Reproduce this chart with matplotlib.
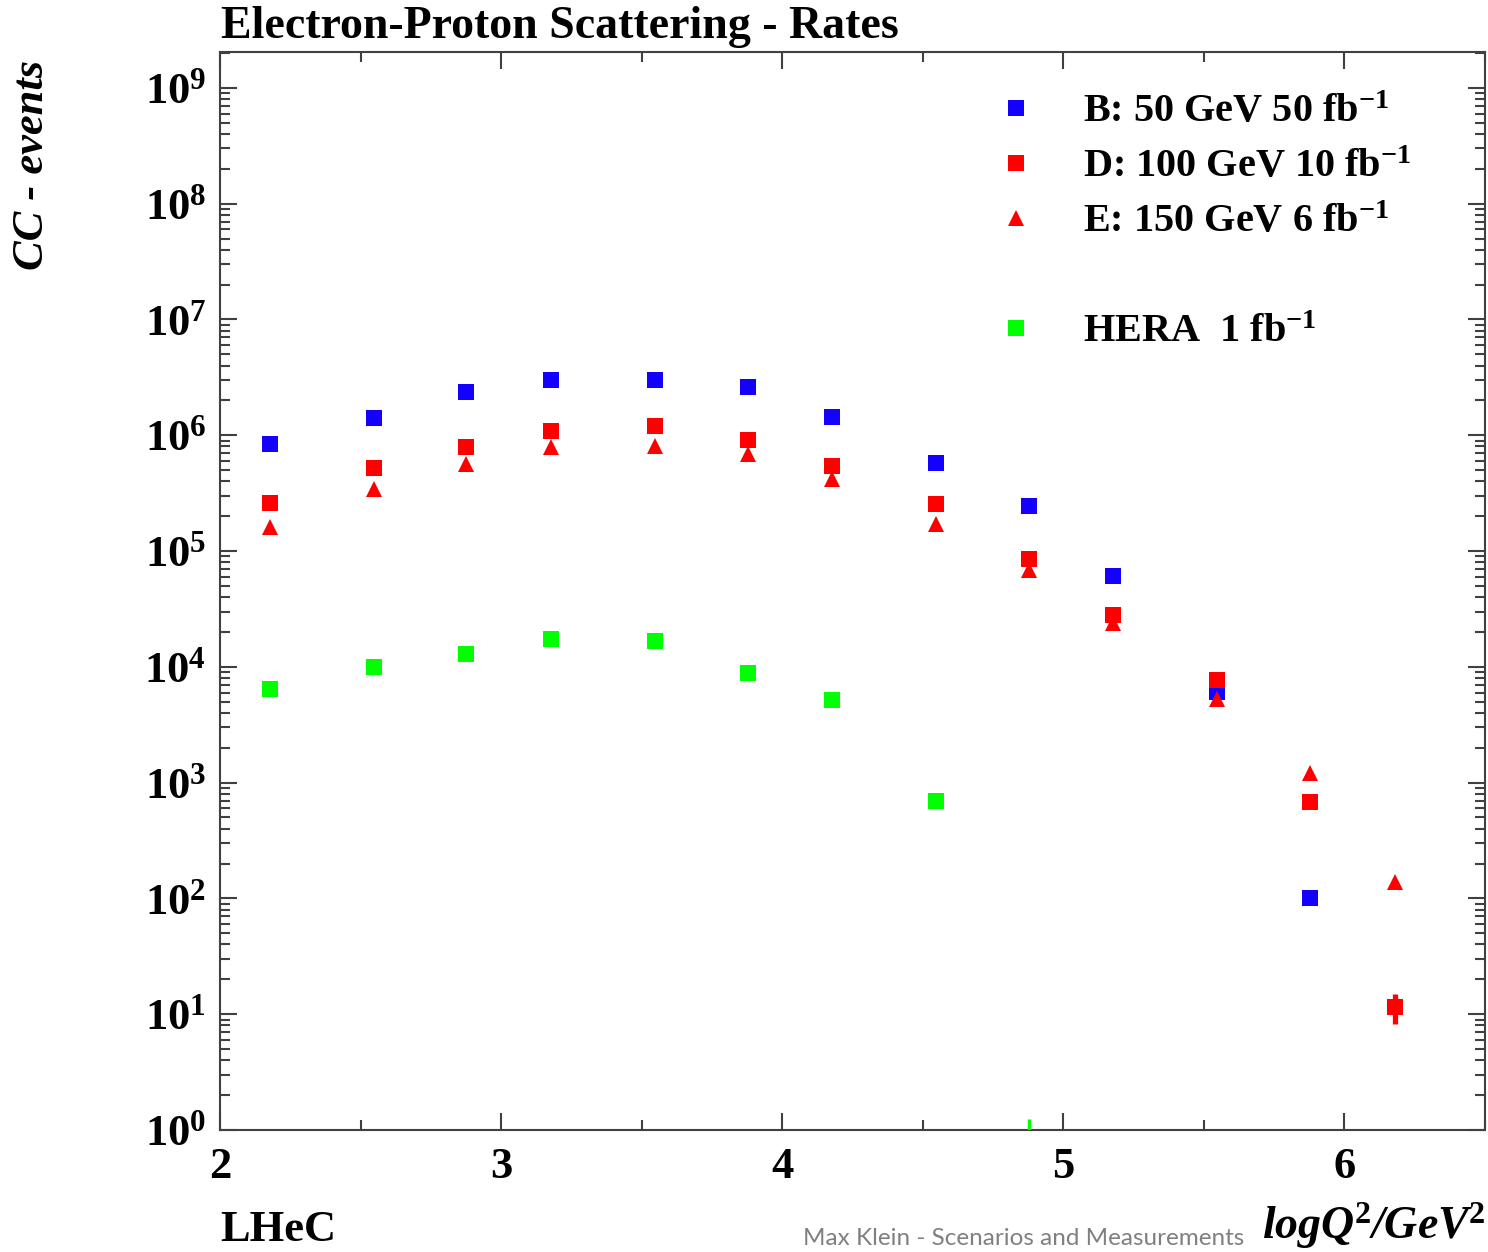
import math
import matplotlib
matplotlib.use("Agg")
import matplotlib.pyplot as plt
from matplotlib.ticker import FixedLocator, LogLocator, NullFormatter, FuncFormatter
from matplotlib.lines import Line2D

plt.rcParams['mathtext.fontset'] = 'custom'
plt.rcParams['mathtext.rm'] = 'Liberation Serif:bold'
plt.rcParams['mathtext.bf'] = 'Liberation Serif:bold'
plt.rcParams['mathtext.it'] = 'Liberation Serif:bold:italic'
plt.rcParams['font.family'] = ['Liberation Serif']

# ---- data ----
logq2 = [2.178, 2.548, 2.875, 3.178, 3.548, 3.879, 4.178, 4.548, 4.879, 5.178, 5.548, 5.879, 6.181]

b_x = logq2[:12]
b_events = [8.4e5, 1.41e6, 2.36e6, 3.0e6, 3.0e6, 2.6e6, 1.44e6, 5.75e5, 2.45e5, 6.1e4, 6.05e3, 1.0e2]

d_x = logq2
d_events = [2.6e5, 5.2e5, 7.9e5, 1.09e6, 1.2e6, 9.1e5, 5.4e5, 2.55e5, 8.5e4, 2.8e4, 7.7e3, 6.8e2, 11.5]
d_err_lo = [0, 0, 0, 0, 0, 0, 0, 0, 0, 0, 0, 0, 3.3]
d_err_hi = [0, 0, 0, 0, 0, 0, 0, 0, 0, 0, 0, 0, 3.4]

e_x = logq2
e_events = [1.61e5, 3.43e5, 5.6e5, 7.9e5, 8.1e5, 6.9e5, 4.2e5, 1.71e5, 6.9e4, 2.4e4, 5.3e3, 1.2e3, 139]

hera_x = logq2[:9]
hera_events = [6.4e3, 1.0e4, 1.29e4, 1.74e4, 1.67e4, 8.8e3, 5.2e3, 6.9e2, 0.75]
hera_err_hi = [0, 0, 0, 0, 0, 0, 0, 0, 0.5]

labels = [r"B: 50 GeV 50 fb$^{\mathrm{-1}}$",
          r"D: 100 GeV 10 fb$^{\mathrm{-1}}$",
          r"E: 150 GeV 6 fb$^{\mathrm{-1}}$",
          r"HERA  1 fb$^{\mathrm{-1}}$"]

BLUE = '#1400FF'
RED = '#FF0000'
GREEN = '#00FF00'
SPINE = '#404040'

fig = plt.figure(figsize=(14.88, 12.52), dpi=100)
ax = fig.add_axes([220/1488, 1-1130/1252, (1485-220)/1488, (1130-52)/1252])
ax.set_yscale('log')
ax.set_xlim(2, 6.5)
ax.set_ylim(1, 2.04e9)

ms_sq = 11
ms_tr = 12
ax.errorbar(d_x, d_events, yerr=[d_err_lo, d_err_hi], fmt='s', color=RED, ms=ms_sq,
            elinewidth=3.8, capsize=0, mew=0, zorder=3)
ax.plot(e_x, e_events, '^', color=RED, ms=ms_tr, mew=0, zorder=4)
ax.plot(b_x, b_events, 's', color=BLUE, ms=ms_sq, mew=0, zorder=2)
ax.errorbar(hera_x, hera_events, yerr=[[0]*len(hera_err_hi), hera_err_hi], fmt='s',
            color=GREEN, ms=ms_sq, mew=0, elinewidth=2.5, capsize=0, zorder=3)

# axes styling
for s in ax.spines.values():
    s.set_color(SPINE)
    s.set_linewidth(1.5)
ax.xaxis.set_major_locator(FixedLocator([2, 3, 4, 5, 6]))
ax.xaxis.set_minor_locator(FixedLocator([2.5, 3.5, 4.5, 5.5, 6.5]))
ax.yaxis.set_major_locator(LogLocator(base=10, numticks=20))
ax.yaxis.set_minor_locator(LogLocator(base=10, subs=range(2, 10), numticks=200))
ax.yaxis.set_minor_formatter(NullFormatter())
ax.yaxis.set_major_formatter(FuncFormatter(lambda v, p: r"$10^{%d}$" % round(math.log10(v))))
ax.tick_params(which='both', direction='in', top=True, right=True, color=SPINE, width=1.5)
ax.tick_params(which='major', length=12)
ax.tick_params(which='minor', length=7)
ax.tick_params(axis='y', which='major', labelsize=32, pad=10)
ax.tick_params(axis='x', which='major', labelsize=32, pad=12)
for lab in ax.get_xticklabels():
    lab.set_fontweight('bold')

# legend
handles = [Line2D([], [], ls='none', marker='s', color=BLUE, ms=ms_sq, mew=0),
           Line2D([], [], ls='none', marker='s', color=RED, ms=ms_sq, mew=0),
           Line2D([], [], ls='none', marker='^', color=RED, ms=ms_tr, mew=0),
           Line2D([], [], ls='none'),
           Line2D([], [], ls='none', marker='s', color=GREEN, ms=ms_sq, mew=0)]
leg = ax.legend(handles, [labels[0], labels[1], labels[2], ' ', labels[3]],
                loc='upper left', bbox_to_anchor=((980-220)/1265, 1-(78-52)/1078),
                frameon=False, prop={'family': 'Liberation Serif', 'weight': 'bold', 'size': 29},
                handlelength=1.0, handletextpad=1.16, labelspacing=0.44, borderaxespad=0)

# texts
fig.text(221/1488, 1-38/1252, "Electron-Proton Scattering - Rates", fontsize=33,
         fontweight='bold', va='baseline', ha='left')
fig.text(32/1488, 1-60/1252, "CC - events", fontsize=32, fontweight='bold', style='italic',
         rotation=90, va='top', ha='center')
fig.text(220/1488, 1-1241/1252, "LHeC", fontsize=32, fontweight='bold', va='baseline', ha='left')
fig.text(1485/1488, 1-1239/1252, r"logQ$^{\mathit{2}}$/GeV$^{\mathit{2}}$", fontsize=33,
         fontweight='bold', style='italic', va='baseline', ha='right')
fig.text(803/1488, 1-1245/1252, "Max Klein - Scenarios and Measurements", fontsize=17.5,
         family='Lato', color='#808080', va='baseline', ha='left')

fig.savefig('out.png', dpi=100)
